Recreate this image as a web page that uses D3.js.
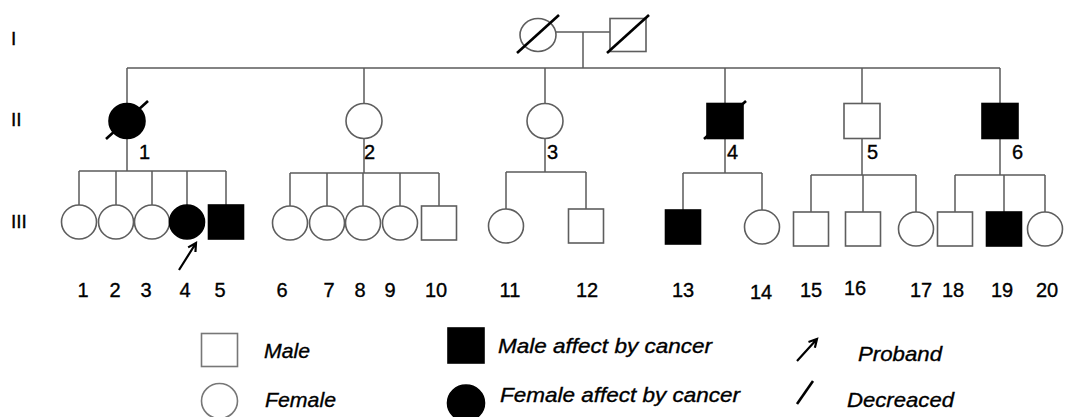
<!DOCTYPE html>
<html>
<head>
<meta charset="utf-8">
<script src="https://cdn.jsdelivr.net/npm/d3@7"></script>
<style>
  html, body { margin: 0; padding: 0; background: #fff; }
  svg { display: block; }
  text { font-family: "Liberation Sans", Arial, sans-serif; fill: #000; stroke: #000; stroke-width: 0.35px; }
</style>
</head>
<body>
<svg id="chart" width="1065" height="417"></svg>
<script>
// ---------------- DATA ----------------
const generations = ["I", "II", "III"];

// Generation I (founding couple)
const gen1Ids = ["I-1", "I-2"];
const gen1Sex = ["F", "M"];
const gen1Affected = [0, 0];
const gen1Deceased = [1, 1];
const gen1X = [538, 628];

// Generation II (children of I-1 x I-2)
const gen2Labels = ["1", "2", "3", "4", "5", "6"];
const gen2Sex = ["F", "F", "F", "M", "M", "M"];
const gen2Affected = [1, 0, 0, 1, 0, 1];
const gen2Deceased = [1, 0, 0, 1, 0, 0];
const gen2X = [127, 364, 545, 725, 862, 1000];
const gen2LabelX = [139, 364, 547, 727, 867, 1012];

// Generation III (each belongs to the family of one gen-II parent)
const gen3Labels = ["1","2","3","4","5","6","7","8","9","10","11","12","13","14","15","16","17","18","19","20"];
const gen3Family = [0,0,0,0,0, 1,1,1,1,1, 2,2, 3,3, 4,4,4, 5,5,5];
const gen3Sex = ["F","F","F","F","M", "F","F","F","F","M", "F","M", "M","F", "M","M","F", "M","M","F"];
const gen3Affected = [0,0,0,1,1, 0,0,0,0,0, 0,0, 1,0, 0,0,0, 0,1,0];
const gen3X = [79,116,152,187,226, 290,327,363,400,439, 506,586, 683,762, 811,863,916, 955,1004,1045];
const gen3LabelX = [83,115,146,185,220, 282,329,360,390,436, 510,587, 683,761, 811,855,921, 953,1002,1047];
const gen3LabelDy = [0,0,0,0,0, 0,0,0,0,0, 0,0, 0,2, 0,-2,0, 0,0,0];
const probandIndex = 3; // III-4

// Family layout offsets (sibship line level, and child row offset)
const familySibY = [171, 173, 172, 173, 175, 175];
const familyDy = [-2, -1, 2, 3, 5, 5];

// Legend
const legendLabels = ["Male", "Female", "Male affect by cancer", "Female affect by cancer", "Proband", "Decreaced"];

// ---------------- DRAW ----------------
const W = 1065, H = 417;
const svg = d3.select("#chart");
const x = d3.scaleLinear().domain([0, W]).range([0, W]);
const y = d3.scaleOrdinal().domain(generations).range([35, 121, 224]);

const LINE = "#5a5a5a";
const OUT = "#5e5e5e";

function symbol(g, cx, cy, w, h, sex, affected, stroke) {
  if (sex === "M") {
    g.append("rect")
      .attr("x", cx - w / 2).attr("y", cy - h / 2)
      .attr("width", w).attr("height", h)
      .attr("fill", affected ? "#000" : "#fff")
      .attr("stroke", affected ? "#000" : (stroke || OUT))
      .attr("stroke-width", 1.6);
  } else {
    g.append("ellipse")
      .attr("cx", cx).attr("cy", cy)
      .attr("rx", w / 2).attr("ry", h / 2)
      .attr("fill", affected ? "#000" : "#fff")
      .attr("stroke", affected ? "#000" : (stroke || OUT))
      .attr("stroke-width", 1.6);
  }
}
function slash(g, cx, cy) {
  g.append("line")
    .attr("x1", cx - 21).attr("y1", cy + 18)
    .attr("x2", cx + 21).attr("y2", cy - 20)
    .attr("stroke", "#000").attr("stroke-width", 2.6);
}
function arrow(g, x1, y1, x2, y2) {
  const ang = Math.atan2(y2 - y1, x2 - x1);
  const L = 9, spread = 0.5;
  const p = d3.path();
  p.moveTo(x1, y1); p.lineTo(x2, y2);
  p.moveTo(x2 - L * Math.cos(ang - spread), y2 - L * Math.sin(ang - spread));
  p.lineTo(x2, y2);
  p.lineTo(x2 - L * Math.cos(ang + spread), y2 - L * Math.sin(ang + spread));
  g.append("path").attr("d", p.toString())
    .attr("fill", "none").attr("stroke", "#000").attr("stroke-width", 2.2)
    .attr("stroke-linejoin", "miter");
}
function vline(g, xx, y1, y2) {
  g.append("line").attr("x1", xx).attr("x2", xx).attr("y1", y1).attr("y2", y2)
    .attr("stroke", LINE).attr("stroke-width", 1.5);
}
function hline(g, x1, x2, yy) {
  g.append("line").attr("x1", x1).attr("x2", x2).attr("y1", yy).attr("y2", yy)
    .attr("stroke", LINE).attr("stroke-width", 1.5);
}

const lines = svg.append("g");
const marks = svg.append("g");
const labels = svg.append("g");

// Generation labels
generations.forEach(gn => {
  labels.append("text")
    .attr("x", 11).attr("y", y(gn) + 7 + (gn === "I" ? 3 : gn === "III" ? -3 : -2))
    .attr("font-size", 19).text(gn);
});

// ---- Generation I ----
const g1y = y("I");
const g1w = 36, g1h = 33;
const marriageY = g1y - 3;
hline(lines, x(gen1X[0]) + g1w / 2, x(gen1X[1]) - g1w / 2, marriageY);
const coupleMid = (x(gen1X[0]) + x(gen1X[1])) / 2;
const sib2Y = 68;
vline(lines, coupleMid, marriageY, sib2Y);
gen1X.forEach((gx, i) => {
  symbol(marks, x(gx), g1y, g1w, g1h, gen1Sex[i], gen1Affected[i]);
  if (gen1Deceased[i]) slash(marks, x(gx), g1y);
});

// ---- Generation II ----
const g2y = y("II");
const g2w = 36, g2h = 35;
hline(lines, x(d3.min(gen2X)), x(d3.max(gen2X)), sib2Y);
gen2X.forEach((gx, i) => {
  vline(lines, x(gx), sib2Y, g2y - g2h / 2);
  symbol(marks, x(gx), g2y, g2w, g2h, gen2Sex[i], gen2Affected[i]);
  if (gen2Deceased[i]) slash(marks, x(gx), g2y);
  labels.append("text").attr("x", x(gen2LabelX[i])).attr("y", 159)
    .attr("font-size", 20).text(gen2Labels[i]);
});

// ---- Generation III ----
const g3y = y("III");
const g3w = 35, g3h = 34;
gen2X.forEach((px, f) => {
  const kids = d3.range(gen3X.length).filter(k => gen3Family[k] === f);
  const sy = familySibY[f];
  vline(lines, x(px), g2y + g2h / 2, sy);
  hline(lines, x(gen3X[kids[0]]), x(gen3X[kids[kids.length - 1]]), sy);
  kids.forEach(k => {
    const cy = g3y + familyDy[f];
    vline(lines, x(gen3X[k]), sy, cy - g3h / 2);
  });
});
gen3X.forEach((gx, k) => {
  const cy = g3y + familyDy[gen3Family[k]];
  symbol(marks, x(gx), cy, g3w, g3h, gen3Sex[k], gen3Affected[k]);
  labels.append("text").attr("x", x(gen3LabelX[k])).attr("y", 297 + gen3LabelDy[k])
    .attr("text-anchor", "middle").attr("font-size", 20).text(gen3Labels[k]);
});
// proband arrow
{
  const px = x(gen3X[probandIndex]);
  const py = g3y + familyDy[gen3Family[probandIndex]];
  arrow(marks, px - 8, py + 48, px + 9, py + 21);
}

// ---- Legend ----
const leg = svg.append("g");
const legFont = 21;
symbol(leg, 219.5, 350, 36, 33, "M", 0, "#777");
symbol(leg, 219.5, 401, 36, 35, "F", 0, "#777");
symbol(leg, 466, 345.5, 36, 35, "M", 1);
symbol(leg, 466, 403, 37, 36, "F", 1);
arrow(leg, 797, 361, 817, 339);
leg.append("line").attr("x1", 797).attr("y1", 404).attr("x2", 813).attr("y2", 381)
  .attr("stroke", "#000").attr("stroke-width", 2.6);

const legendPos = [
  {x: 264, y: 358, w: 46},
  {x: 265, y: 407, w: 71},
  {x: 498, y: 353, w: 214},
  {x: 500, y: 402, w: 240},
  {x: 858, y: 361, w: 84},
  {x: 847, y: 407, w: 107}
];
legendLabels.forEach((t, i) => {
  leg.append("text")
    .attr("x", legendPos[i].x).attr("y", legendPos[i].y)
    .attr("font-size", legFont).attr("font-style", "italic")
    .attr("textLength", legendPos[i].w).attr("lengthAdjust", "spacingAndGlyphs")
    .text(t);
});
</script>
</body>
</html>
